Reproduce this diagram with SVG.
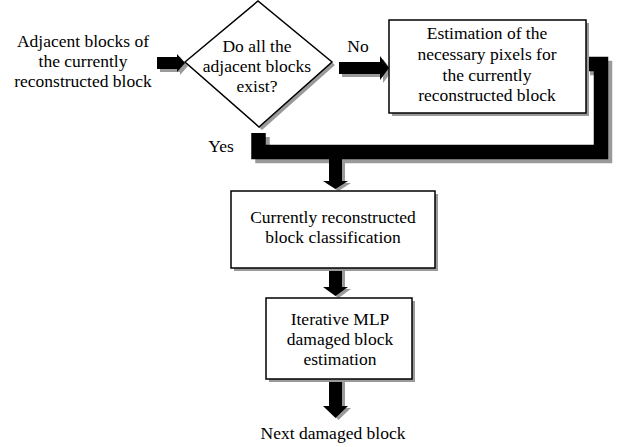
<svg xmlns="http://www.w3.org/2000/svg" width="618" height="447" viewBox="0 0 618 447" font-family="Liberation Serif, Tinos, Times New Roman, DejaVu Serif, serif">
<style>
text{font-family:'Liberation Serif','Tinos','Times New Roman','DejaVu Serif',serif;font-size:17.5px;fill:#000;text-anchor:middle}
.box{fill:#fff;stroke:#000;stroke-width:1.5}
.sh{fill:#9a9a9a}
.shl{fill:none;stroke:#9a9a9a;stroke-width:14.5}
.thick{fill:none;stroke:#000;stroke-width:14.5;stroke-linejoin:miter}
.ar{fill:#000}
</style>
<rect width="618" height="447" fill="#fff"/>
<g id="connectors">
  <g transform="translate(3,3)" class="sh"><rect x="157" y="57" width="21" height="12"/><polygon points="177,54 185,63 177,72"/></g>
  <g class="ar"><rect x="157" y="57" width="21" height="12"/><polygon points="177,54 185,63 177,72"/></g>
  <g transform="translate(3,3)" class="sh"><rect x="339" y="62" width="42" height="12"/><polygon points="380,56 389,68 380,80"/></g>
  <g class="ar"><rect x="339" y="62" width="42" height="12"/><polygon points="380,56 389,68 380,80"/></g>
  <path class="shl" transform="translate(4,4)" d="M586,64 H601 V152 H258.5 V133"/>
  <path class="thick" d="M586,64 H601 V152 H258.5 V133"/>
  <g transform="translate(3,2)" class="sh"><rect x="329" y="159" width="13" height="23"/><polygon points="323,181 348,181 335.5,189"/></g>
  <g class="ar"><rect x="329" y="159" width="13" height="23"/><polygon points="323,181 348,181 335.5,189"/></g>
  <g transform="translate(3,2)" class="sh"><rect x="329" y="268" width="13" height="20"/><polygon points="323,287 348,287 335.5,296"/></g>
  <g class="ar"><rect x="329" y="268" width="13" height="20"/><polygon points="323,287 348,287 335.5,296"/></g>
  <g transform="translate(3,2)" class="sh"><rect x="329" y="379" width="13" height="28"/><polygon points="323,406 348,406 335.5,418"/></g>
  <g class="ar"><rect x="329" y="379" width="13" height="28"/><polygon points="323,406 348,406 335.5,418"/></g>
  <text x="358" y="52">No</text>
  <text x="221" y="152">Yes</text>
</g>
<g id="input">
  <text x="83" y="47">Adjacent blocks of</text>
  <text x="83" y="67">the currently</text>
  <text x="83" y="87">reconstructed block</text>
</g>
<g id="decision">
  <polygon class="sh" points="188,65 261,4 335,65 262,130"/>
  <polygon class="box" points="185,62 258,1 332,62 259,127"/>
  <text x="257" y="52">Do all the</text>
  <text x="257" y="72">adjacent blocks</text>
  <text x="257" y="92">exist?</text>
</g>
<g id="estimation">
  <rect class="sh" x="392" y="23" width="197" height="93"/>
  <rect class="box" x="389" y="20" width="197" height="93"/>
  <text x="487" y="39">Estimation of the</text>
  <text x="487" y="60">necessary pixels for</text>
  <text x="487" y="81">the currently</text>
  <text x="487" y="101">reconstructed block</text>
</g>
<g id="classification">
  <rect class="sh" x="234" y="194" width="204" height="77"/>
  <rect class="box" x="231" y="191" width="204" height="77"/>
  <text x="333" y="223">Currently reconstructed</text>
  <text x="333" y="243">block classification</text>
</g>
<g id="mlp">
  <rect class="sh" x="269" y="301" width="146" height="81"/>
  <rect class="box" x="266" y="298" width="146" height="81"/>
  <text x="340" y="325">Iterative MLP</text>
  <text x="340" y="345">damaged block</text>
  <text x="340" y="365">estimation</text>
</g>
<g id="output">
  <text x="333" y="439">Next damaged block</text>
</g>
</svg>
